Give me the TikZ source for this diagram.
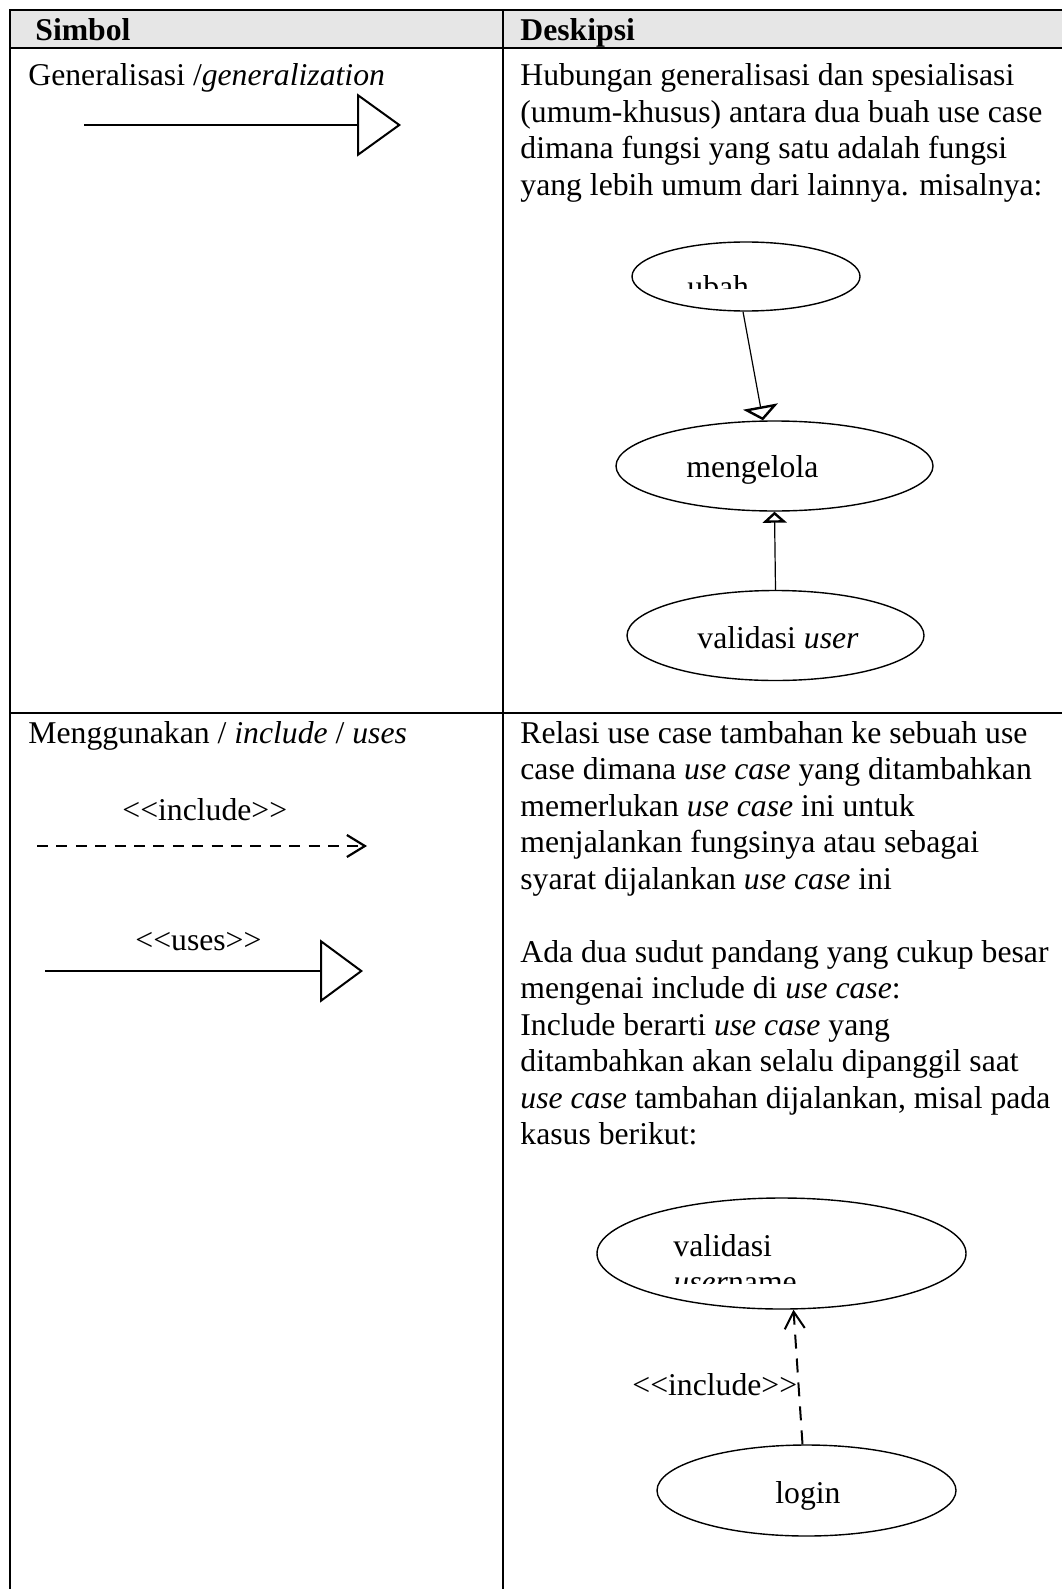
\documentclass[tikz,border=0pt]{standalone}
\usepackage{fontspec}
\setmainfont{Liberation Serif}
\usepackage{tikz}
\usetikzlibrary{shapes.geometric,arrows.meta}
\definecolor{hdrgray}{HTML}{E6E6E6}
\newcommand{\stereo}[1]{<\kern0pt<#1>\kern0pt>}

\begin{document}
\begin{tikzpicture}[x=0.5pt,y=-0.5pt,
  txt/.style={font=\fontsize{15.85pt}{18.25pt}\selectfont, inner sep=0pt, anchor=base west},
  head/.style={txt, font=\fontsize{15.85pt}{18.25pt}\selectfont\bfseries},
  para/.style={txt, align=left},
  ucase/.style={ellipse, draw, line width=0.7pt, inner sep=0pt},
  tblline/.style={line width=1.2pt},
  link/.style={line width=0.6pt}]
\useasboundingbox (0,0) rectangle (1062,1589);
\fill[hdrgray] (10,10) rectangle (1062,48);
\draw[tblline] (1062,10) -- (10,10) -- (10,1589);
\draw[tblline] (10,48) -- (1062,48);
\draw[tblline] (503,10) -- (503,1589);
\draw[tblline] (10,713) -- (1062,713);

\node[head] (simbol) at (35,41) {Simbol};
\node[head] (deskipsi) at (520,41) {Deskipsi};

\node[txt] (generalisasi) at (28,86) {Generalisasi /\textit{generalization}};
\coordinate (genfrom) at (84,125);
\coordinate (gento) at (401,125);
\draw[link, -{Triangle[open,length=22pt,width=31.5pt,line width=1pt]}] (genfrom) -- (gento);

\node[para] (gendesc) at (520,195.5) {Hubungan generalisasi dan spesialisasi\\
(umum-khusus) antara dua buah use case\\
dimana fungsi yang satu adalah fungsi\\
yang lebih umum dari lainnya. misalnya:};

\node[ucase, minimum width=114pt, minimum height=34.5pt] (ubah) at (746,276.5) {};
\begin{scope}
\clip (632,240) rectangle (860,288);
\node[txt] (ubahtxt) at (687,297.7) {ubah};
\end{scope}
\node[ucase, minimum width=158.5pt, minimum height=45pt] (mengelola) at (774.5,466) {};
\node[txt] (mengelolatxt) at (686,477) {mengelola};
\node[ucase, minimum width=148.5pt, minimum height=45pt] (validasiuser) at (775.5,635.5) {};
\node[txt] (validasiusertxt) at (697,648) {validasi \textit{user}};
\draw[link, -{Triangle[open,length=7pt,width=17.5pt,line width=1.2pt]}] ([xshift=-1.5pt]ubah.south) -- ([xshift=-5.75pt]mengelola.north);
\draw[link, -{Triangle[open,length=5.5pt,width=12pt,line width=1.2pt]}] (validasiuser.north) -- (mengelola.south);

\node[txt] (menggunakan) at (28,743) {Menggunakan / \textit{include} / \textit{uses}};
\node[txt] (inclabel) at (122,820) {\stereo{include}};
\coordinate (incfrom) at (37,846);
\coordinate (incto) at (367,846);
\draw[line width=1.1pt, dash pattern=on 5.5pt off 4.2pt, -{Straight Barb[length=9pt,width=11pt]}] (incfrom) -- (incto);
\node[txt] (useslabel) at (135,950) {\stereo{uses}};
\coordinate (usesfrom) at (45,971);
\coordinate (usesto) at (363,971);
\draw[link, -{Triangle[open,length=21.5pt,width=31.5pt,line width=1pt]}] (usesfrom) -- (usesto);

\node[para] (incdesc) at (520,1144.5) {Relasi use case tambahan ke sebuah use\\
case dimana \textit{use case} yang ditambahkan\\
memerlukan \textit{use case} ini untuk\\
menjalankan fungsinya atau sebagai\\
syarat dijalankan \textit{use case} ini\\[18.25pt]
Ada dua sudut pandang yang cukup besar\\
mengenai include di \textit{use case}:\\
Include berarti \textit{use case} yang\\
ditambahkan akan selalu dipanggil saat\\
\textit{use case} tambahan dijalankan, misal pada\\
kasus berikut:};

\node[ucase, minimum width=184.5pt, minimum height=55.5pt] (validasiusername) at (781.5,1253.5) {};
\begin{scope}
\clip (598,1198) rectangle (966,1283);
\node[para] (validasiusernametxt) at (673,1292.5) {validasi\\\textit{user}name};
\end{scope}
\node[ucase, minimum width=149.5pt, minimum height=45.5pt] (login) at (806.5,1490.5) {};
\node[txt] (logintxt) at (775,1503) {login};
\draw[line width=1pt, dash pattern=on 7pt off 5pt, -{Straight Barb[length=8.5pt,width=10pt]}] ([xshift=-2pt]login.north) -- ([xshift=6pt]validasiusername.south);
\node[txt] (includelabel) at (632,1395) {\stereo{include}};
\end{tikzpicture}
\end{document}
